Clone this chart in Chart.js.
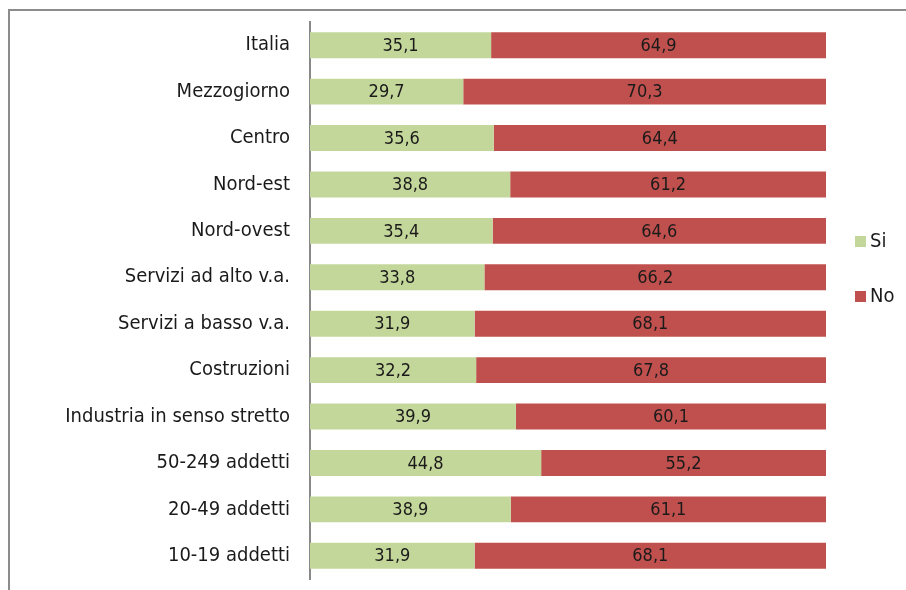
<!DOCTYPE html>
<html>
<head>
<meta charset="utf-8">
<script src="https://cdn.jsdelivr.net/npm/chart.js@4"></script>
<style>
  html, body { margin: 0; padding: 0; background: #fff; }
  #wrap { position: relative; width: 906px; height: 590px; }
  #frame { position: absolute; left: 8px; top: 9px; right: -2px; bottom: -2px; border-top: 2px solid #8c8c8c; border-left: 2px solid #8c8c8c; }
  canvas { position: absolute; left: 0; top: 0; }
</style>
</head>
<body>
<div id="wrap"><div id="frame"></div><canvas id="c" width="906" height="590"></canvas></div>
<script>
const categories = ['Italia', 'Mezzogiorno', 'Centro', 'Nord-est', 'Nord-ovest', 'Servizi ad alto v.a.', 'Servizi a basso v.a.', 'Costruzioni', 'Industria in senso stretto', '50-249 addetti', '20-49 addetti', '10-19 addetti'];
const si = [35.1, 29.7, 35.6, 38.8, 35.4, 33.8, 31.9, 32.2, 39.9, 44.8, 38.9, 31.9];
const no = [64.9, 70.3, 64.4, 61.2, 64.6, 66.2, 68.1, 67.8, 60.1, 55.2, 61.1, 68.1];

const FONT = '"DejaVu Sans Condensed", "Liberation Sans", sans-serif';

// value labels in the middle of each segment
const valueLabels = {
  id: 'valueLabels',
  afterDatasetsDraw(chart) {
    const { ctx } = chart;
    ctx.save();
    ctx.font = '18px ' + FONT;
    ctx.fillStyle = '#1a1a1a';
    ctx.textAlign = 'center';
    ctx.textBaseline = 'middle';
    chart.data.datasets.forEach((ds, di) => {
      chart.getDatasetMeta(di).data.forEach((bar, i) => {
        const cx = (bar.x + bar.base) / 2;
        ctx.fillText(ds.data[i].toFixed(1).replace('.', ','), cx, bar.y + 1);
      });
    });
    ctx.restore();
  }
};

// legend on the right, drawn by hand
const sideLegend = {
  id: 'sideLegend',
  afterDraw(chart) {
    const { ctx } = chart;
    ctx.save();
    ctx.font = '20px ' + FONT;
    ctx.textBaseline = 'middle';
    chart.data.datasets.forEach((ds, i) => {
      const y = 241 + i * 55;
      ctx.fillStyle = ds.backgroundColor;
      ctx.fillRect(855, y - 5, 11, 11);
      ctx.fillStyle = '#1a1a1a';
      ctx.fillText(ds.label, 870, y + 1);
    });
    ctx.restore();
  }
};

new Chart(document.getElementById('c'), {
  type: 'bar',
  data: {
    labels: categories,
    datasets: [
      { label: 'Si', data: si, backgroundColor: '#c4d79b', barPercentage: 0.56, categoryPercentage: 1 },
      { label: 'No', data: no, backgroundColor: '#c0504d', barPercentage: 0.56, categoryPercentage: 1 }
    ]
  },
  options: {
    indexAxis: 'y',
    responsive: false,
    animation: false,
    layout: { padding: { top: 22, bottom: 11, right: 80, left: 0 } },
    plugins: { legend: { display: false }, tooltip: { enabled: false } },
    scales: {
      x: { stacked: true, min: 0, max: 100, display: false },
      y: {
        stacked: true,
        afterFit(s) { s.width = 310; s.paddingTop = 0; s.paddingBottom = 0; },
        grid: { display: false, drawTicks: false },
        border: { display: true, color: '#888', width: 2 },
        ticks: { color: '#1a1a1a', padding: 20, font: { size: 20, family: FONT } }
      }
    }
  },
  plugins: [valueLabels, sideLegend]
});
</script>
</body>
</html>
